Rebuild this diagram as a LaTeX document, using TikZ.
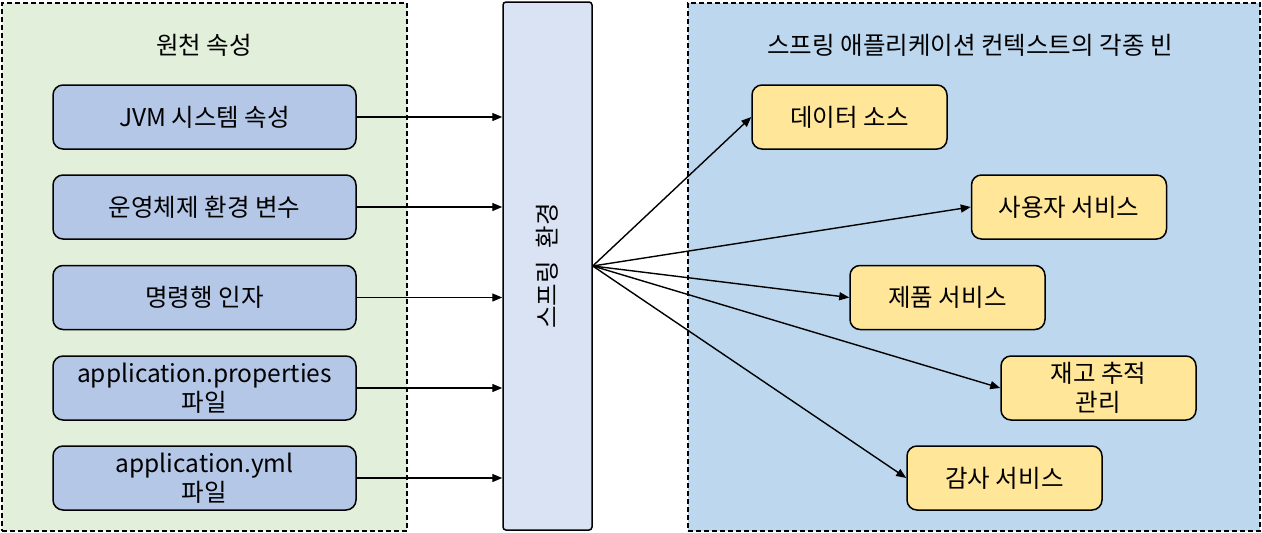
\documentclass[tikz,border=0pt]{standalone}
\usepackage{fontspec}
\setmainfont{Noto Sans CJK KR}
\usetikzlibrary{arrows.meta}
\definecolor{grpgreen}{HTML}{E2EFDA}
\definecolor{grpblue}{HTML}{BDD7EE}
\definecolor{srcblue}{HTML}{B4C7E7}
\definecolor{barblue}{HTML}{DAE3F3}
\definecolor{beanyellow}{HTML}{FFE699}
\tikzset{
  grp/.style={draw, line width=1.5pt, dash pattern=on 5pt off 3pt, inner sep=0pt},
  srcbox/.style={draw, line width=1.5pt, fill=srcblue, rounded corners=10pt, minimum width=303pt, minimum height=64pt, inner sep=0pt, align=center},
  beanbox/.style={draw, line width=1.5pt, fill=beanyellow, rounded corners=10pt, minimum width=195pt, minimum height=64pt, inner sep=0pt, align=center},
  arr/.style={line width=1.4pt, -{Triangle[length=10pt,width=8pt]}},
}
\begin{document}
\begin{tikzpicture}[x=1pt,y=-1pt,font=\fontsize{24.5}{29}\selectfont]
\useasboundingbox (0,0) rectangle (1262,533);
% groups
\node[grp, fill=grpgreen, minimum width=405pt, minimum height=528pt] (g1) at (204.5,267) {};
\node[grp, fill=grpblue, minimum width=572pt, minimum height=528pt] (g2) at (974,267) {};
\node (t1) at (204,45) {원천 속성};
\node (t2) at (970,45) {스프링 애플리케이션 컨텍스트의 각종 빈};
% sources
\node[srcbox] (s1) at (204.5,117) {JVM 시스템 속성};
\node[srcbox] (s2) at (204.5,207) {운영체제 환경 변수};
\node[srcbox] (s3) at (204.5,297.5) {명령행 인자};
\node[srcbox] (s4) at (204.5,388) {application.properties\\파일};
\node[srcbox] (s5) at (204.5,478) {application.yml\\파일};
% bar
\node[draw, line width=1.5pt, fill=barblue, rounded corners=3pt, minimum width=89pt, minimum height=528pt, inner sep=0pt] (bar) at (547.5,266) {};
\node[rotate=90] (barlbl) at (bar.center) {스프링\hspace{0.3em} 환경};
% beans
\node[beanbox] (b1) at (849.5,117) {데이터 소스};
\node[beanbox] (b2) at (1069,207) {사용자 서비스};
\node[beanbox] (b3) at (947.5,297.5) {제품 서비스};
\node[beanbox] (b4) at (1098.5,388) {재고 추적\\관리};
\node[beanbox] (b5) at (1004.5,478) {감사 서비스};
% arrows
\foreach \s in {s1,s2,s3,s4,s5}{
  \draw[arr] (\s.east) -- (\s.east -| bar.west);
}
\foreach \b in {b1,b2,b3,b4,b5}{
  \draw[arr] (bar.east) -- (\b.west);
}
\end{tikzpicture}
\end{document}
